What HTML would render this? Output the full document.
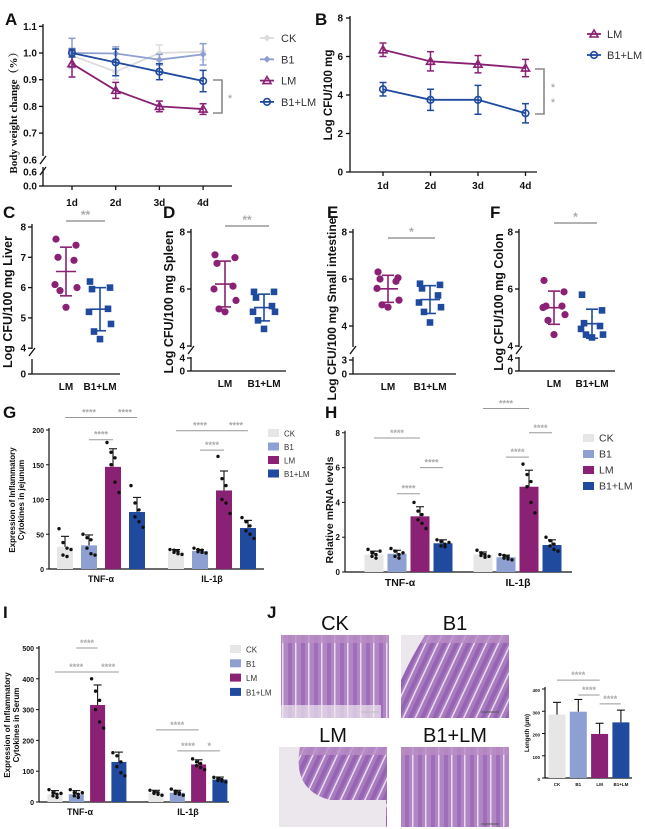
<!DOCTYPE html>
<html><head><meta charset="utf-8">
<style>
html,body{margin:0;padding:0;background:#fff;}
svg{display:block;font-family:"Liberation Sans",Arial,sans-serif;}
</style></head>
<body>
<svg id="fig" width="645" height="829" viewBox="0 0 645 829" xmlns="http://www.w3.org/2000/svg">
<defs>
<pattern id="villi" width="13" height="90" patternUnits="userSpaceOnUse">
<rect width="13" height="90" fill="#b186c4"/>
<rect x="2" y="0" width="4" height="90" fill="#9e6fb8"/>
<rect x="9" y="0" width="1.5" height="90" fill="#eadcee"/>
</pattern>
<pattern id="villi2" width="11" height="70" patternUnits="userSpaceOnUse" patternTransform="rotate(25)">
<rect width="11" height="70" fill="#a97cc0"/>
<rect x="2" y="0" width="4" height="70" fill="#9565b3"/>
<rect x="8" y="0" width="1.5" height="70" fill="#eadcee"/>
</pattern>
</defs>
</svg>
<script>
// ---------- DATA ----------
const days = ['1d','2d','3d','4d'];
const aCK = [0.99, 0.93, 1.0, 1.005];
const aCKerr = [0.03, 0.03, 0.03, 0.03];
const aB1 = [1.0, 0.998, 0.975, 0.995];
const aB1err = [0.055, 0.025, 0.02, 0.04];
const aLM = [0.96, 0.86, 0.80, 0.79];
const aLMerr = [0.05, 0.03, 0.02, 0.02];
const aBLM = [1.0, 0.965, 0.93, 0.895];
const aBLMerr = [0.015, 0.05, 0.03, 0.04];
const aTicks = [1.1, 1.0, 0.9, 0.8, 0.7, 0.6];
const aTickLabels = ['1.1','1.0','0.9','0.8','0.7','0.6'];

const bLM = [6.35, 5.75, 5.6, 5.4];
const bLMerr = [0.35, 0.5, 0.45, 0.45];
const bBLM = [4.3, 3.75, 3.75, 3.05];
const bBLMerr = [0.35, 0.55, 0.75, 0.5];
const bTicks = [0, 2, 4, 6, 8];

const scatterGroups = ['LM','B1+LM'];
const cLiverLM = [7.6, 7.4, 7.0, 6.9, 6.1, 6.0, 5.9, 5.35];
const cLiverBLM = [6.2, 6.0, 5.95, 5.3, 5.2, 4.8, 4.55, 4.3];
const dSpleenLM = [7.2, 7.1, 6.9, 6.1, 6.0, 5.6, 5.3, 5.2];
const dSpleenBLM = [5.9, 5.9, 5.7, 5.4, 5.2, 5.2, 4.9, 4.6];
const eSILM = [6.3, 6.05, 6.0, 5.9, 5.6, 5.1, 4.9, 4.8];
const eSIBLM = [5.8, 5.75, 5.6, 5.3, 5.0, 4.8, 4.6, 4.15];
const fColonLM = [6.3, 5.9, 5.4, 5.4, 5.35, 5.1, 4.9, 4.4];
const fColonBLM = [5.8, 5.25, 4.8, 4.7, 4.6, 4.4, 4.4, 4.3];

const barGroups = ['CK','B1','LM','B1+LM'];
const cytokines = ['TNF-α','IL-1β'];
const gTNF = [32, 34, 147, 82];
const gTNFerr = [15, 15, 26, 21];
const gIL = [25, 26, 113, 59];
const gILerr = [3, 2, 28, 11];
const gTNFdots = [[58,38,30,20,18,28],[50,45,42,30,22,20],[182,168,160,150,125,110],[120,95,85,75,68,60]];
const gILdots = [[28,27,25,24,22,21],[30,28,27,25,24,23],[162,130,120,100,95,80],[74,68,62,55,50,44]];
const gTicks = [0, 50, 100, 150, 200];

const hTNF = [1.0, 1.05, 3.2, 1.65];
const hTNFerr = [0.2, 0.2, 0.55, 0.2];
const hIL = [1.0, 0.85, 4.9, 1.55];
const hILerr = [0.15, 0.12, 0.95, 0.3];
const hTNFdots = [[1.3,1.1,1.0,0.9,0.8,1.2],[1.35,1.2,1.0,0.9,0.8,1.1],[4.0,3.5,3.3,3.0,2.8,2.5],[1.85,1.75,1.6,1.5,1.45,1.7]];
const hILdots = [[1.25,1.1,1.0,0.95,0.85,0.9],[1.0,0.95,0.85,0.8,0.75,0.7],[6.2,5.6,5.2,4.9,4.0,3.4],[2.0,1.8,1.6,1.5,1.3,1.2]];
const hTicks = [0, 2, 4, 6, 8];

const iTNF = [25, 25, 315, 130];
const iTNFerr = [12, 12, 65, 32];
const iIL = [30, 30, 122, 73];
const iILerr = [8, 8, 15, 8];
const iTNFdots = [[40,30,25,20,15,28],[40,30,25,20,15,30],[400,360,330,300,260,240],[160,150,130,115,95,85]];
const iILdots = [[38,32,30,28,25,22],[42,35,30,28,25,22],[140,130,125,118,112,105],[80,76,73,70,68,65]];
const iTicks = [0, 100, 200, 300, 400, 500];

const jLength = [285, 298, 198, 250];
const jLengthErr = [55, 55, 48, 55];
const jTicks = [0, 100, 200, 300, 400];

const COL = {CK:'#dcdcdc', B1:'#8e9fd1', LM:'#8b2174', BLM:'#1f4a9e'};
const barColors = ['#e6e6e6','#8e9fd1','#8b2174','#1f4a9e'];

// ---------- HELPERS ----------
const svg = document.getElementById('fig');
const NS = 'http://www.w3.org/2000/svg';
function mk(tag, attrs, name) {
  const e = document.createElementNS(NS, tag);
  for (const k in attrs) e.setAttribute(k, attrs[k]);
  
  
  svg.appendChild(e);
  return e;
}
function txt(x, y, s, size, name, opt) {
  opt = opt || {};
  const t = mk('text', {x:x, y:y, 'font-size':size, 'text-anchor':opt.anchor||'middle',
    'font-weight':opt.weight||'bold', fill:opt.fill||'#111',
    'font-family':opt.family||'"Liberation Sans",Arial,sans-serif'}, name);
  if (opt.rot) t.setAttribute('transform', 'rotate(-90 ' + x + ' ' + y + ')');
  t.textContent = s;
  return t;
}
function line(x1,y1,x2,y2,name,stroke,w){
  return mk('line',{x1:x1,y1:y1,x2:x2,y2:y2,stroke:stroke||'#111','stroke-width':w||1.3},name);
}
function breakMark(x,y,name){
  line(x-3,y+4,x+3,y-4,name,'#111',1.3);
}
function sig(x1,x2,y,stars,name){
  line(x1,y,x2,y,name+'-line','#999',1);
  txt((x1+x2)/2, y-2, stars, 9, name+'-stars', {fill:'#aaa'});
}

// ---------- PANEL LETTERS ----------
const letters = [['A',5,25],['B',315,25],['C',3,218],['D',163,218],['E',327,218],['F',490,218],['G',3,418],['H',325,418],['I',3,618],['J',267,618]];
for (const L of letters) txt(L[1], L[2], L[0], 17, 'panel-label-' + L[0].toLowerCase(), {anchor:'start'});

// ---------- PANEL A ----------
const xA = i => 72 + i * 43.7;
const yA = v => 53 + (1.0 - v) * 267;
line(43, 24, 43, 156, 'a-y-axis');
line(43, 167, 43, 186, 'a-y-axis-lower');
breakMark(43, 160, 'a-axis-break');
breakMark(43, 171, 'a-axis-break2');
line(43, 186, 232, 186, 'a-x-axis');
for (let i = 0; i < aTicks.length; i++) {
  const y = yA(aTicks[i]);
  if (aTicks[i] > 0.65) line(39, y, 43, y, 'a-y-tick');
  txt(37, y + 3.5, aTickLabels[i], 10, 'a-y-tick-label', {anchor:'end'});
}
txt(37, 175.5, '0.6', 10, 'a-y-tick-label', {anchor:'end'});
txt(37, 189.5, '0.0', 10, 'a-y-tick-label', {anchor:'end'});
line(39,186,43,186,'a-y-tick');
for (let i = 0; i < days.length; i++) {
  line(xA(i), 186, xA(i), 190, 'a-x-tick');
  txt(xA(i), 206, days[i], 10, 'a-x-tick-label');
}
txt(17, 110, 'Body weight change（%）', 11, 'a-y-axis-title', {rot:true, family:'"Liberation Serif","Noto Serif CJK SC",serif'});
function series(xf, yf, vals, errs, color, marker, name, w) {
  const pts = vals.map((v, i) => xf(i) + ',' + yf(v)).join(' ');
  mk('polyline', {points:pts, fill:'none', stroke:color, 'stroke-width':w||1.8}, name + '-line');
  for (let i = 0; i < vals.length; i++) {
    const x = xf(i), y1 = yf(vals[i] + errs[i]), y2 = yf(vals[i] - errs[i]);
    line(x, y1, x, y2, name + '-errorbar', color, 1.5);
    line(x-3.5, y1, x+3.5, y1, name + '-errorcap', color, 1.5);
    line(x-3.5, y2, x+3.5, y2, name + '-errorcap', color, 1.5);
    drawMarker(x, yf(vals[i]), color, marker, name + '-point');
  }
}
function drawMarker(x, y, color, m, name) {
  if (m === 'tri') mk('polygon', {points:(x)+','+(y-4)+' '+(x-4)+','+(y+3)+' '+(x+4)+','+(y+3), fill:'none', stroke:color, 'stroke-width':1.6}, name);
  else if (m === 'circ') mk('circle', {cx:x, cy:y, r:3.3, fill:'none', stroke:color, 'stroke-width':1.6}, name);
  else mk('polygon', {points:x+','+(y-3.5)+' '+(x+3.5)+','+y+' '+x+','+(y+3.5)+' '+(x-3.5)+','+y, fill:color}, name);
}
series(xA, yA, aCK, aCKerr, COL.CK, 'dia', 'a-ck');
series(xA, yA, aB1, aB1err, COL.B1, 'dia', 'a-b1');
series(xA, yA, aLM, aLMerr, COL.LM, 'tri', 'a-lm');
series(xA, yA, aBLM, aBLMerr, COL.BLM, 'circ', 'a-b1lm');
mk('polyline', {points:'213,80 222,80 222,113 213,113', fill:'none', stroke:'#888', 'stroke-width':1.6}, 'a-significance-bracket');
txt(230, 102, '*', 11, 'a-significance-star', {fill:'#999', weight:'normal'});
const aLeg = [['CK',COL.CK,'dia'],['B1',COL.B1,'dia'],['LM',COL.LM,'tri'],['B1+LM',COL.BLM,'circ']];
for (let i = 0; i < aLeg.length; i++) {
  const y = 38 + i * 21.3;
  line(260, y, 274, y, 'a-legend-line', aLeg[i][1], 1.8);
  drawMarker(267, y, aLeg[i][1], aLeg[i][2], 'a-legend-marker');
  txt(281, y + 4, aLeg[i][0], 11, 'a-legend-entry', {anchor:'start', weight:'normal', fill:'#333'});
}

// ---------- PANEL B ----------
const xB = i => 383 + i * 47.5;
const yB = v => 172 - v * 19.25;
line(350, 16, 350, 172, 'b-y-axis');
line(350, 172, 537, 172, 'b-x-axis');
for (const t of bTicks) { line(346, yB(t), 350, yB(t), 'b-y-tick'); txt(343, yB(t)+3.5, String(t), 10, 'b-y-tick-label', {anchor:'end'}); }
for (let i = 0; i < days.length; i++) { line(xB(i),172,xB(i),176,'b-x-tick'); txt(xB(i), 189, days[i], 10, 'b-x-tick-label'); }
txt(332, 95, 'Log CFU/100 mg', 11.5, 'b-y-axis-title', {rot:true});
series(xB, yB, bLM, bLMerr, COL.LM, 'tri', 'b-lm');
series(xB, yB, bBLM, bBLMerr, COL.BLM, 'circ', 'b-b1lm');
mk('polyline', {points:'535,69 544,69 544,114 535,114', fill:'none', stroke:'#888', 'stroke-width':1.6}, 'b-significance-bracket');
txt(553, 91, '*', 11, 'b-significance-star', {fill:'#999', weight:'normal'});
txt(553, 106, '*', 11, 'b-significance-star', {fill:'#999', weight:'normal'});
const bLeg = [['LM',COL.LM,'tri'],['B1+LM',COL.BLM,'circ']];
for (let i = 0; i < bLeg.length; i++) {
  const y = 34 + i * 21;
  line(587, y, 601, y, 'b-legend-line', bLeg[i][1], 1.8);
  drawMarker(594, y, bLeg[i][1], bLeg[i][2], 'b-legend-marker');
  txt(607, y + 4, bLeg[i][0], 11, 'b-legend-entry', {anchor:'start', weight:'normal', fill:'#333'});
}

// ---------- SCATTER PANELS C-F ----------
function scatter(p) {
  const y = v => p.y8 + (8 - v) * p.unit;
  line(p.ax, p.y8 - 3, p.ax, p.breakY - 3, p.n + '-y-axis');
  line(p.ax, p.breakY + 7, p.ax, p.y0, p.n + '-y-axis-lower');
  breakMark(p.ax, p.breakY, p.n + '-axis-break');
  line(p.ax, p.y0, p.end, p.y0, p.n + '-x-axis');
  for (const t of p.ticks) { line(p.ax-4, y(t), p.ax, y(t), p.n + '-y-tick'); txt(p.ax-6, y(t)+3.5, String(t), 10, p.n + '-y-tick-label', {anchor:'end'}); }
  for (const t of p.low) { line(p.ax-4, t[1], p.ax, t[1], p.n + '-y-tick'); txt(p.ax-6, t[1]+3.5, t[0], 10, p.n + '-y-tick-label', {anchor:'end'}); }
  const xs = [p.xLM, p.xB];
  const sets = [p.lm, p.blm];
  const cols = [COL.LM, COL.BLM];
  for (let g = 0; g < 2; g++) {
    const vals = sets[g];
    const mean = vals.reduce((a,b)=>a+b,0) / vals.length;
    const sd = Math.sqrt(vals.reduce((a,b)=>a+(b-mean)*(b-mean),0) / (vals.length-1));
    for (let k = 0; k < vals.length; k++) {
      const dx = [-10,10,-8,8,-11,11,-6,0][k];
      if (g === 0) mk('circle', {cx:xs[g]+dx, cy:y(vals[k]), r:3.6, fill:cols[g]}, p.n + '-lm-point');
      else mk('rect', {x:xs[g]+dx-3.3, y:y(vals[k])-3.3, width:6.6, height:6.6, fill:cols[g]}, p.n + '-b1lm-point');
    }
    line(xs[g]-10, y(mean), xs[g]+10, y(mean), p.n + '-mean-line', cols[g], 1.6);
    line(xs[g], y(mean+sd), xs[g], y(mean-sd), p.n + '-sd-line', cols[g], 1.6);
    line(xs[g]-6, y(mean+sd), xs[g]+6, y(mean+sd), p.n + '-sd-cap', cols[g], 1.6);
    line(xs[g]-6, y(mean-sd), xs[g]+6, y(mean-sd), p.n + '-sd-cap', cols[g], 1.6);
    txt(xs[g], p.y0 + 16, scatterGroups[g], 10, p.n + '-x-tick-label');
  }
  line(p.xLM, p.sigY, p.xB + 5, p.sigY, p.n + '-significance-line', '#999', 1.4);
  txt((p.xLM + p.xB + 5)/2, p.sigY - 2, p.stars, 12, p.n + '-significance-stars', {fill:'#aaa'});
  txt(p.titleX, p.titleY, p.title, p.tsize || 12.5, p.n + '-y-axis-title', {rot:true});
}
scatter({n:'c', ax:32, end:120, y8:227, unit:30.3, breakY:352, y0:374, ticks:[8,7,6,5,4], low:[['0',374]],
  xLM:66, xB:100, lm:cLiverLM, blm:cLiverBLM, sigY:221, stars:'**', title:'Log CFU/100 mg Liver', titleX:12, titleY:302});
scatter({n:'d', ax:191, end:286, y8:232, unit:28.5, breakY:350, y0:371, ticks:[8,6,4], low:[['4',358],['0',371]],
  xLM:225, xB:264, lm:dSpleenLM, blm:dSpleenBLM, sigY:226, stars:'**', title:'Log CFU/100 mg Spleen', titleX:173, titleY:302});
scatter({n:'e', ax:353, end:456, y8:232, unit:23.5, breakY:350, y0:374, ticks:[8,6,4], low:[['3',360],['0',374]],
  xLM:388, xB:430, lm:eSILM, blm:eSIBLM, sigY:238, stars:'*', title:'Log CFU/100 mg Small intestine', titleX:336, titleY:309, tsize:12});
scatter({n:'f', ax:519, end:615, y8:232, unit:28.5, breakY:350, y0:371, ticks:[8,6,4], low:[['4',358],['0',371]],
  xLM:554, xB:592, lm:fColonLM, blm:fColonBLM, sigY:223, stars:'*', title:'Log CFU/100 mg Colon', titleX:503, titleY:302});

// ---------- BAR PANELS ----------
function bars(p) {
  const y = p.y;
  line(p.ax, y(p.ticks[p.ticks.length-1]) - 2, p.ax, y(0), p.n + '-y-axis', '#111', 1.2);
  line(p.ax, y(0), p.end, y(0), p.n + '-x-axis', '#111', 1.2);
  for (const t of p.ticks) { line(p.ax-3, y(t), p.ax, y(t), p.n + '-y-tick', '#111', 1); txt(p.ax-5, y(t)+3, String(t), p.tfs, p.n + '-y-tick-label', {anchor:'end'}); }
  for (let c = 0; c < p.sets.length; c++) {
    for (let g = 0; g < 4; g++) {
      const cx = p.starts[c] + g * p.step, v = p.sets[c][g], e = p.errs[c][g];
      mk('rect', {x:cx - p.w/2, y:y(v), width:p.w, height:y(0)-y(v), fill:barColors[g]}, p.n + '-bar-' + barGroups[g].toLowerCase().replace('+','') + '-' + c);
      line(cx, y(v), cx, y(v+e), p.n + '-errorbar', '#111', 1.1);
      line(cx-4, y(v+e), cx+4, y(v+e), p.n + '-errorcap', '#111', 1.1);
      if (p.dots) {
        const d = p.dots[c][g];
        for (let k = 0; k < d.length; k++) mk('circle', {cx:cx + ((k%3)-1)*4 + (k>2?2:-2), cy:y(d[k]), r:1.7, fill:'#111'}, p.n + '-data-dot');
      }
    }
    if (p.cats) txt(p.catX[c], y(0) + p.catDy, p.cats[c], p.cfs, p.n + '-x-tick-label');
  }
  for (const s of p.sigs) sig(p.starts[s[0]] + s[1]*p.step, p.starts[s[0]] + s[2]*p.step, y(s[3]), s[4], p.n + '-significance');
  if (p.leg) for (let g = 0; g < 4; g++) {
    const ly = p.leg[1] + g * p.leg[2];
    mk('rect', {x:p.leg[0], y:ly-4, width:11, height:8, fill:barColors[g]}, p.n + '-legend-swatch');
    txt(p.leg[0] + 16, ly + 3.5, barGroups[g], p.leg[3], p.n + '-legend-entry', {anchor:'start', weight:'normal', fill:'#333'});
  }
}
bars({n:'g', ax:49, end:264, y:v => 569 - v*0.695, ticks:gTicks, tfs:7, sets:[gTNF,gIL], errs:[gTNFerr,gILerr], dots:[gTNFdots,gILdots],
  starts:[65,176], step:24, w:16, cats:cytokines, catX:[101,212], catDy:13, cfs:9,
  sigs:[[0,0,2,218,'****'],[0,2,3,218,'****'],[0,1,2,186,'****'],[1,0,2,199,'****'],[1,2,3,199,'****'],[1,1,2,171,'****']],
  leg:[268,433,13.5,8]});
txt(15, 500, 'Expression of Inflammatory', 8, 'g-y-axis-title-line1', {rot:true});
txt(24, 500, 'Cytokines in jejunum', 8, 'g-y-axis-title-line2', {rot:true});

bars({n:'h', ax:345, end:572, y:v => 572 - v*17.4, ticks:hTicks, tfs:8, sets:[hTNF,hIL], errs:[hTNFerr,hILerr], dots:[hTNFdots,hILdots],
  starts:[374,483], step:23, w:19, cats:cytokines, catX:[400,518], catDy:14, cfs:10.5,
  sigs:[[0,0,2,7.7,'****'],[0,2,3,6.0,'****'],[0,1,2,4.5,'****'],[1,0,2,9.4,'****'],[1,2,3,8.0,'****'],[1,1,2,6.6,'****']],
  leg:[583,438,16,10.5]});
txt(333, 510, 'Relative mRNA levels', 10.5, 'h-y-axis-title', {rot:true});

bars({n:'i', ax:39, end:229, y:v => 802 - v*0.308, ticks:iTicks, tfs:7, sets:[iTNF,iIL], errs:[iTNFerr,iILerr], dots:[iTNFdots,iILdots],
  starts:[55,156], step:21.3, w:15, cats:cytokines, catX:[80,188], catDy:13, cfs:9,
  sigs:[[0,1,2,500,'****'],[0,0,2,422,'****'],[0,2,3,422,'****'],[1,0,2,234,'****'],[1,1,2,166,'****'],[1,2,3,166,'*']],
  leg:[230,649,14.3,8]});
txt(10, 725, 'Expression of Inflammatory', 8, 'i-y-axis-title-line1', {rot:true});
txt(19, 725, 'Cytokines in Serum', 8, 'i-y-axis-title-line2', {rot:true});

// ---------- PANEL J ----------
const histo = [['CK',281,635,'villi'],['B1',401,635,'villi2'],['LM',279,747,'villi2'],['B1+LM',401,747,'villi']];
for (const h of histo) {
  txt(h[1] + 54, h[2] - 5, h[0], 20, 'j-image-title-' + h[0].toLowerCase().replace('+',''), {weight:'normal'});
  mk('rect', {x:h[1], y:h[2], width:108, height:h[2] < 700 ? 83 : 80, fill:'url(#' + h[3] + ')'}, 'j-histology-image');
  mk('rect', {x:h[1], y:h[2], width:108, height:8, fill:'#b98dc6', opacity:0.8}, 'j-histology-edge');
  line(h[1]+80, h[2]+77, h[1]+98, h[2]+77, 'j-scale-bar', '#555', 1);
}
mk('rect', {x:281, y:705, width:100, height:13, fill:'#ece6ee', opacity:0.7}, 'j-ck-lumen');
mk('path', {d:'M279,747 L300,747 Q292,790 330,800 L386,800 L386,827 L279,827 Z', fill:'#ebe7ec'}, 'j-lm-background');
mk('path', {d:'M401,635 L425,635 Q410,660 401,680 Z', fill:'#ebe7ec'}, 'j-b1-background');
bars({n:'j', ax:545, end:632, y:v => 778 - v*0.2225, ticks:jTicks, tfs:4.5, sets:[jLength], errs:[jLengthErr], dots:null,
  starts:[557], step:21.3, w:17, cats:null, catX:[], catDy:0, cfs:0,
  sigs:[[0,0,2,440,'****'],[0,1,2,373,'****'],[0,2,3,333,'****']], leg:null});
for (let g = 0; g < 4; g++) txt(557 + g*21.3, 786, barGroups[g], 4.5, 'j-x-tick-label');
txt(529, 733, 'Lengeth (μm)', 6, 'j-y-axis-title', {rot:true});
</script>
</body></html>
